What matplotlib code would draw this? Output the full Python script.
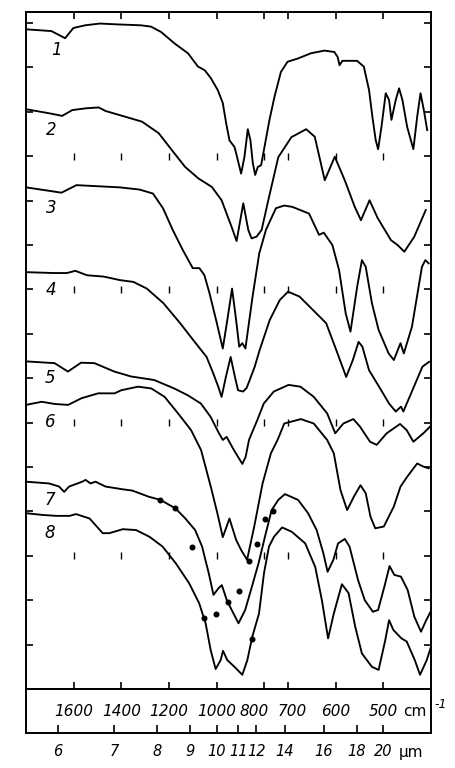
import numpy as np
import matplotlib
matplotlib.use('Agg')
import matplotlib.pyplot as plt
from matplotlib.transforms import blended_transform_factory, offset_copy

# ---------------- data (wavenumber in cm^-1, transmittance in chart units) ----
w1 = [1800, 1693, 1636, 1601, 1552, 1490, 1413, 1317, 1275, 1233, 1176, 1120, 1078, 1050, 1024,
      995, 974, 960, 946, 925, 918, 897, 883, 869, 858, 848, 838, 827, 813, 799, 778, 757, 730,
      702, 680, 652, 624, 603, 596, 592, 586, 555, 541, 530, 523, 516, 511, 504, 495, 488, 483,
      474, 467, 460, 450, 437, 429, 422, 415, 408]
t1 = [14.86, 14.82, 14.66, 14.89, 14.95, 14.99, 14.97, 14.95, 14.92, 14.80, 14.54, 14.32, 14.02,
      13.94, 13.76, 13.49, 13.20, 12.75, 12.36, 12.21, 12.07, 11.61, 11.99, 12.61, 12.36, 11.85,
      11.58, 11.76, 11.80, 12.21, 12.82, 13.34, 13.90, 14.13, 14.20, 14.32, 14.38, 14.35, 14.24,
      14.05, 14.15, 14.15, 14.02, 13.49, 12.89, 12.36, 12.16, 12.66, 13.42, 13.27, 12.82, 13.27,
      13.53, 13.27, 12.66, 12.16, 12.89, 13.42, 13.04, 12.59]

w2 = [1800, 1704, 1648, 1606, 1550, 1495, 1466, 1383, 1313, 1243, 1188, 1132, 1076, 1020, 979,
      937, 916, 888, 867, 853, 832, 811, 783, 741, 693, 662, 644, 623, 602, 581, 560, 547, 529,
      512, 484, 470, 456, 435, 411]
t2 = [13.06, 12.97, 12.91, 13.04, 13.08, 13.10, 13.02, 12.89, 12.78, 12.52, 12.14, 11.76, 11.50,
      11.31, 11.01, 10.41, 10.09, 10.94, 10.34, 10.15, 10.19, 10.34, 11.01, 11.98, 12.43, 12.61,
      12.44, 11.46, 11.99, 11.46, 10.86, 10.56, 11.01, 10.61, 10.11, 10.00, 9.85, 10.19, 10.79]

w3 = [1800, 1651, 1588, 1407, 1323, 1267, 1225, 1184, 1142, 1100, 1072, 1051, 1030, 1002, 974,
      955, 935, 918, 905, 892, 879, 849, 821, 793, 751, 716, 691, 656, 635, 625, 607, 593, 579,
      569, 555, 545, 537, 524, 510, 489, 478, 464, 457, 440, 419, 412, 405]
t3 = [11.30, 11.18, 11.35, 11.30, 11.25, 11.16, 10.83, 10.34, 9.89, 9.48, 9.48, 9.32, 8.92, 8.31,
      7.67, 8.31, 9.02, 8.31, 7.71, 7.79, 7.67, 8.84, 9.81, 10.34, 10.83, 10.89, 10.86, 10.71,
      10.23, 10.28, 10.00, 9.44, 8.46, 8.05, 9.06, 9.66, 9.51, 8.69, 8.09, 7.56, 7.41, 7.79, 7.56,
      8.16, 9.51, 9.66, 9.59]

w4 = [1800, 1684, 1628, 1593, 1544, 1474, 1405, 1349, 1293, 1223, 1153, 1098, 1042, 1014, 993,
      979, 961, 941, 923, 910, 889, 874, 861, 840, 819, 777, 735, 700, 676, 648, 620, 599, 578,
      564, 552, 544, 530, 509, 488, 474, 463, 458, 439, 418, 404]
t4 = [9.39, 9.37, 9.37, 9.42, 9.32, 9.29, 9.21, 9.17, 9.02, 8.69, 8.24, 7.86, 7.48, 7.11, 6.81,
      6.58, 7.03, 7.48, 7.03, 6.73, 6.70, 6.78, 6.96, 7.26, 7.64, 8.31, 8.76, 8.95, 8.84, 8.54,
      8.24, 7.64, 7.03, 7.41, 7.82, 7.71, 7.18, 6.81, 6.43, 6.25, 6.36, 6.25, 6.73, 7.26, 7.37]

w5 = [1800, 1680, 1624, 1569, 1513, 1429, 1359, 1262, 1178, 1122, 1066, 1025, 991, 974, 958, 927,
      892, 878, 864, 829, 802, 760, 699, 674, 646, 618, 601, 584, 563, 549, 528, 514, 493, 465,
      451, 437, 416, 402]
t5 = [7.38, 7.34, 7.15, 7.35, 7.34, 7.15, 7.04, 6.96, 6.77, 6.62, 6.43, 6.13, 5.77, 5.61, 5.68,
      5.38, 5.07, 5.23, 5.61, 6.06, 6.43, 6.70, 6.85, 6.81, 6.58, 6.21, 5.76, 5.98, 6.08, 5.91,
      5.57, 5.50, 5.76, 5.97, 5.83, 5.57, 5.76, 5.91]

w6 = [1800, 1734, 1679, 1623, 1567, 1497, 1428, 1400, 1330, 1274, 1218, 1162, 1107, 1065, 1023,
      995, 974, 946, 918, 897, 872, 842, 807, 772, 744, 716, 673, 646, 618, 604, 590, 576, 562,
      548, 537, 527, 517, 499, 478, 464, 450, 429, 416, 405]
t6 = [6.40, 6.47, 6.42, 6.40, 6.55, 6.66, 6.66, 6.73, 6.81, 6.77, 6.58, 6.21, 5.83, 5.38, 4.53,
      3.92, 3.42, 3.84, 3.36, 3.13, 2.91, 3.66, 4.63, 5.31, 5.61, 5.98, 6.08, 5.98, 5.61, 5.31,
      4.48, 4.03, 4.33, 4.59, 4.41, 3.88, 3.62, 3.66, 4.11, 4.56, 4.78, 5.08, 5.01, 4.97]

w7 = [1800, 1703, 1661, 1640, 1619, 1564, 1550, 1529, 1508, 1466, 1396, 1354, 1284, 1236, 1173,
      1131, 1090, 1061, 1033, 1013, 992, 978, 957, 929, 908, 880, 852, 824, 797, 769, 741, 713,
      679, 658, 640, 626, 617, 605, 595, 581, 571, 553, 539, 522, 511, 498, 487, 477, 463, 449,
      435, 421, 410, 401]
t7 = [4.67, 4.63, 4.56, 4.44, 4.56, 4.67, 4.71, 4.63, 4.67, 4.56, 4.50, 4.47, 4.33, 4.26, 4.07,
      3.84, 3.58, 3.21, 2.61, 2.12, 2.27, 2.34, 2.00, 1.70, 1.48, 1.78, 2.30, 2.83, 3.43, 4.03,
      4.26, 4.39, 4.26, 3.96, 3.58, 3.06, 2.64, 2.91, 3.28, 3.38, 3.21, 2.45, 2.00, 1.74, 1.78,
      2.30, 2.77, 2.57, 2.53, 2.23, 1.63, 1.29, 1.55, 1.74]

w8 = [1800, 1729, 1673, 1617, 1590, 1533, 1478, 1450, 1394, 1338, 1282, 1227, 1171, 1115, 1073,
      1046, 1025, 1004, 983, 973, 955, 925, 892, 871, 850, 822, 801, 780, 759, 725, 692, 664, 643,
      629, 616, 604, 587, 573, 559, 545, 524, 510, 496, 488, 479, 462, 451, 434, 423, 409, 400]
t8 = [3.96, 3.92, 3.90, 3.90, 3.94, 3.84, 3.51, 3.51, 3.60, 3.58, 3.43, 3.21, 2.83, 2.38, 1.93,
      1.48, 0.88, 0.45, 0.65, 0.86, 0.65, 0.50, 0.32, 0.65, 1.18, 1.70, 2.61, 3.21, 3.43, 3.64,
      3.54, 3.28, 2.75, 2.00, 1.14, 1.70, 2.36, 2.16, 1.40, 0.80, 0.50, 0.43, 1.10, 1.55, 1.33,
      1.14, 1.07, 0.65, 0.32, 0.65, 0.95]

dot_w = [1236, 1173, 1103, 1052, 1004, 953, 908, 866, 831, 797, 764, 852]
dot_t = [4.26, 4.07, 3.19, 1.59, 1.70, 1.97, 2.21, 2.89, 3.27, 3.84, 4.02, 1.13]

spectra = [(w1, t1), (w2, t2), (w3, t3), (w4, t4), (w5, t5), (w6, t6), (w7, t7), (w8, t8)]
spectrum_labels = ['1', '2', '3', '4', '5', '6', '7', '8']
cm_ticks = [1600, 1400, 1200, 1000, 800, 700, 600, 500]
um_ticks = [6, 7, 8, 9, 10, 11, 12, 14, 16, 18, 20]
mark_rows = [12, 9, 6, 3]

# ---------------- scale: wavenumber axis with doubled scale below 700 cm-1 ----
def fwd(w):
    w = np.asarray(w, dtype=float)
    return np.where(w >= 700, w, 2 * w - 700)

def inv(f):
    f = np.asarray(f, dtype=float)
    return np.where(f >= 700, f, (f + 700) / 2)

W, H = 456, 768
L, R, T, B, B2 = 26, 431, 12, 689, 733
fig = plt.figure(figsize=(W / 100, H / 100), dpi=100)
ax = fig.add_axes([L / W, 1 - B / H, (R - L) / W, (B - T) / H])
ax2 = fig.add_axes([L / W, 1 - B2 / H, (R - L) / W, (B2 - B) / H])

for a in (ax, ax2):
    a.set_xscale('function', functions=(fwd, inv))
    a.set_xlim(1800, 400)
    for s in a.spines.values():
        s.set_linewidth(1.4)
        s.set_color('black')

ax.set_ylim(0, 15.25)
ax.set_yticks(range(1, 16))
ax.set_xticks(cm_ticks)
ax.tick_params(axis='both', which='major', direction='in', length=5, width=1.2,
               left=True, right=True, top=True, bottom=True,
               labelleft=False, labelbottom=False)
ax.minorticks_off()

for w, t in spectra:
    ax.plot(w, t, color='black', lw=1.35, solid_joinstyle='round')
ax.plot(dot_w, dot_t, 'o', ms=3.3, color='black')

for r in mark_rows:
    ax.vlines(cm_ticks, r - 0.075, r + 0.075, color='black', lw=1.0)

label_pos = [(0.076, 0.944), (0.063, 0.826), (0.063, 0.710), (0.063, 0.589),
             (0.059, 0.459), (0.059, 0.395), (0.059, 0.279), (0.059, 0.230)]
for lab, (px, py) in zip(spectrum_labels, label_pos):
    ax.text(px, py, lab, transform=ax.transAxes, ha='center', va='center',
            fontsize=12, style='italic', color='black')

# lower strip: cm-1 labels inside, micron ticks on the bottom edge
ax2.set_ylim(0, 1)
ax2.set_yticks([])
ax2.set_xticks([10000.0 / u for u in um_ticks])
ax2.set_xticklabels([str(u) for u in um_ticks], fontsize=10.5, style='italic')
ax2.tick_params(axis='x', which='major', direction='in', length=6, width=1.2,
                top=False, bottom=True, pad=8)
ax2.minorticks_off()
tr = blended_transform_factory(ax2.transData, ax2.transAxes)
label_dx = {800: -10, 700: 4}
for w in cm_ticks:
    t_off = offset_copy(tr, fig=fig, x=label_dx.get(w, 0), y=0, units='dots')
    ax2.text(w, 0.5, str(w), transform=t_off, ha='center', va='center',
             fontsize=11, style='italic')

fig.text(415 / W, 1 - 712 / H, 'cm', ha='center', va='center', fontsize=11)
fig.text(441 / W, 1 - 704 / H, '-1', ha='center', va='center', fontsize=9, style='italic')
fig.text(411 / W, 1 - 753 / H, 'µm', ha='center', va='center', fontsize=11)

fig.savefig('out.png', dpi=100, facecolor='white')
